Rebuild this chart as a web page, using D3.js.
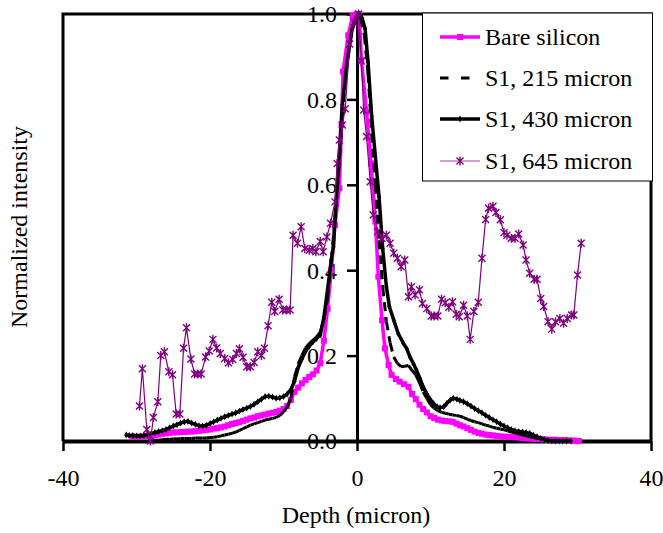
<!DOCTYPE html>
<html>
<head>
<meta charset="utf-8">
<script src="https://cdn.jsdelivr.net/npm/d3@7"></script>
<style>
  body { margin: 0; background: #fff; }
  svg { display: block; }
</style>
</head>
<body>
<svg id="chart" width="663" height="533"></svg>
<script>
// tick labels
var xTicks = [-40, -20, 0, 20, 40];
var yTicks = [0, 0.2, 0.4, 0.6, 0.8, 1.0];

// [depth (micron), normalized intensity]
var bareSilicon = [[-30.5,0.010],[-30,0.010],[-29.5,0.010],[-29,0.011],[-28.5,0.012],[-28,0.012],[-27.5,0.013],[-27,0.015],
  [-26.5,0.017],[-26,0.018],[-25.5,0.019],[-25,0.020],[-24.5,0.020],[-24,0.021],[-23.5,0.021],[-23,0.022],[-22.5,0.022],
  [-22,0.023],[-21.5,0.024],[-21,0.025],[-20.5,0.026],[-20,0.027],[-19.5,0.029],[-19,0.030],[-18.5,0.032],[-18,0.034],
  [-17.5,0.037],[-17,0.040],[-16.5,0.042],[-16,0.044],[-15.5,0.047],[-15,0.050],[-14.5,0.053],[-14,0.055],[-13.5,0.058],
  [-13,0.060],[-12.5,0.062],[-12,0.064],[-11.5,0.066],[-11,0.068],[-10.5,0.071],[-10,0.075],[-9.5,0.082],[-9,0.096],
  [-8.5,0.115],[-8,0.125],[-7.5,0.135],[-7,0.143],[-6.5,0.150],[-6,0.156],[-5.5,0.165],[-5,0.182],[-4.5,0.235],[-4,0.310],
  [-3.5,0.400],[-3,0.506],[-2.4,0.592],[-2.1,0.740],[-1.9,0.865],[-1.2,0.950],[-0.6,0.995],[0,1.000],[0.3,1.000],
  [0.6,0.892],[1.3,0.770],[1.9,0.650],[2.5,0.514],[2.9,0.385],[3.4,0.283],[3.8,0.217],[4.3,0.178],[4.7,0.155],[5.3,0.145],
  [5.8,0.139],[6.4,0.133],[7.0,0.127],[7.5,0.110],[8.0,0.098],[8.5,0.085],[9.0,0.075],[9.5,0.067],[10.0,0.058],[10.5,0.054],
  [11.0,0.050],[11.5,0.048],[12.0,0.047],[12.5,0.046],[13.0,0.045],[13.5,0.041],[14.0,0.037],[14.5,0.034],[15.0,0.030],
  [15.5,0.026],[16.0,0.022],[16.5,0.019],[17.0,0.017],[17.5,0.015],[18.0,0.014],[18.5,0.013],[19.0,0.012],[19.5,0.011],
  [20.0,0.010],[20.5,0.010],[21.0,0.009],[21.5,0.009],[22.0,0.008],[22.5,0.007],[23.0,0.006],[23.5,0.006],[24.0,0.005],
  [24.5,0.005],[25.0,0.004],[25.5,0.004],[26.0,0.003],[26.5,0.003],[27.0,0.003],[27.5,0.002],[28.0,0.002],[28.5,0.002],
  [29.0,0.001],[29.5,0.001],[30.2,0.000]];

var s1_215 = [[-28.2,0.000],[-27.5,0.001],[-27,0.002],[-26.5,0.003],[-26,0.004],[-25.5,0.004],[-25,0.005],[-24.5,0.005],
  [-24,0.006],[-23.5,0.006],[-23,0.006],[-22.5,0.006],[-22,0.007],[-21.5,0.007],[-21,0.007],[-20.5,0.007],[-20,0.008],
  [-19.5,0.009],[-19,0.010],[-18.5,0.012],[-18,0.014],[-17.5,0.016],[-17,0.018],[-16.5,0.021],[-16,0.025],[-15.5,0.029],
  [-15,0.033],[-14.5,0.037],[-14,0.040],[-13.5,0.043],[-13,0.046],[-12.5,0.049],[-12,0.051],[-11.5,0.053],[-11,0.055],
  [-10.5,0.060],[-10,0.068],[-9.5,0.080],[-9,0.100],[-8.5,0.150],[-8,0.180],[-7.5,0.200],[-7,0.218],[-6.5,0.228],
  [-6,0.236],[-5.5,0.244],[-5,0.255],[-4.5,0.285],[-4,0.335],[-3.5,0.424],[-3,0.518],[-2.5,0.630],[-2,0.760],[-1.5,0.860],
  [-1,0.930],[-0.5,0.975],[0,1.000],[0.5,0.990],[1,0.950],[1.5,0.860],[2,0.720],[2.5,0.600],[3,0.470],[3.5,0.360],
  [4,0.280],[4.5,0.230],[5,0.197],[5.5,0.182],[6,0.174],[6.5,0.175],[7,0.177],[7.5,0.165],[8,0.155],[8.5,0.137],[9,0.115],
  [9.5,0.100],[10,0.085],[10.5,0.077],[11,0.071],[11.5,0.067],[12,0.065],[12.5,0.063],[13,0.061],[13.5,0.060],[14,0.058],
  [14.5,0.055],[15,0.051],[15.5,0.048],[16,0.045],[16.5,0.043],[17,0.040],[17.5,0.037],[18,0.035],[18.5,0.032],[19,0.030],
  [19.5,0.028],[20,0.026],[20.5,0.024],[21,0.021],[21.5,0.019],[22,0.017],[22.5,0.014],[23,0.012],[23.5,0.010],[24,0.008],
  [24.5,0.006],[25,0.005],[25.5,0.003],[26,0.002],[26.5,0.001],[27,0.000]];

var s1_430 = [[-31.4,0.014],[-31,0.013],[-30.5,0.013],[-30,0.012],[-29.5,0.012],[-29,0.013],[-28.5,0.015],[-28,0.017],
  [-27.5,0.020],[-27,0.022],[-26.5,0.024],[-26,0.027],[-25.5,0.031],[-25,0.035],[-24.5,0.038],[-24,0.042],[-23.5,0.045],
  [-23,0.046],[-22.5,0.042],[-22,0.039],[-21.5,0.036],[-21,0.035],[-20.5,0.037],[-20,0.041],[-19.5,0.045],[-19,0.049],
  [-18.5,0.053],[-18,0.057],[-17.5,0.060],[-17,0.063],[-16.5,0.066],[-16,0.070],[-15.5,0.074],[-15,0.077],[-14.5,0.081],
  [-14,0.086],[-13.5,0.092],[-13,0.098],[-12.5,0.104],[-12,0.105],[-11.5,0.103],[-11,0.100],[-10.5,0.101],[-10,0.104],
  [-9.5,0.110],[-9,0.120],[-8.5,0.140],[-8,0.172],[-7.5,0.192],[-7,0.210],[-6.5,0.222],[-6,0.232],[-5.5,0.240],[-5,0.248],
  [-4.5,0.290],[-4,0.355],[-3.5,0.424],[-3.2,0.455],[-3,0.520],[-2.5,0.650],[-2,0.787],[-1.4,0.880],[-0.7,0.962],
  [0,0.995],[0.3,1.000],[0.7,0.990],[1.1,0.966],[1.5,0.888],[2,0.760],[2.5,0.666],[3,0.572],[3.5,0.450],[4,0.361],
  [4.4,0.315],[5,0.283],[5.6,0.252],[6.3,0.229],[6.8,0.215],[7.2,0.197],[7.7,0.180],[8.1,0.166],[8.6,0.145],[9,0.127],
  [9.5,0.110],[10,0.096],[10.4,0.088],[10.9,0.080],[11.3,0.078],[11.8,0.080],[12.2,0.088],[12.7,0.096],[13.1,0.100],
  [13.6,0.098],[14,0.095],[14.5,0.092],[15,0.087],[15.5,0.082],[16,0.076],[16.5,0.071],[17,0.066],[17.5,0.060],[18,0.055],
  [18.5,0.050],[19,0.045],[19.5,0.040],[20,0.035],[20.5,0.031],[21,0.027],[21.5,0.024],[22,0.022],[22.5,0.021],[23,0.020],
  [23.5,0.018],[24,0.014],[24.5,0.010],[25,0.006],[25.5,0.003],[26,0.001],[26.5,0.000],[27,0.000],[27.5,0.000],
  [28,0.000],[28.5,0.000],[29.1,0.000]];

var s1_645 = [[-29.6,0.082],[-29.2,0.169],[-28.6,0.027],[-28.1,0.000],[-27.7,0.055],[-27.1,0.092],[-26.7,0.200],
  [-26.2,0.209],[-25.6,0.162],[-25.1,0.155],[-24.6,0.063],[-24.1,0.063],[-23.6,0.217],[-23.2,0.265],[-22.6,0.192],
  [-22.1,0.157],[-21.7,0.157],[-21.2,0.157],[-20.6,0.197],[-20.1,0.211],[-19.6,0.238],[-19.1,0.218],[-18.6,0.205],
  [-18.0,0.193],[-17.5,0.183],[-16.9,0.191],[-16.4,0.205],[-16.0,0.216],[-15.5,0.196],[-15.0,0.174],[-14.5,0.174],
  [-14.0,0.184],[-13.5,0.209],[-13.0,0.200],[-12.6,0.217],[-12.1,0.270],[-11.6,0.325],[-11.2,0.303],[-10.6,0.332],
  [-10.1,0.307],[-9.6,0.307],[-9.1,0.307],[-8.7,0.482],[-8.1,0.463],[-7.6,0.502],[-7.1,0.451],[-6.5,0.447],[-6.0,0.451],
  [-5.6,0.443],[-5.0,0.467],[-4.6,0.443],[-4.1,0.478],[-3.6,0.510],[-3.0,0.560],[-2.7,0.650],[-2.4,0.705],[-2.0,0.740],
  [-1.6,0.778],[-1.0,0.930],[-0.4,0.980],[0.2,1.000],[0.6,0.890],[0.9,0.775],[1.3,0.713],[1.8,0.607],[2.2,0.529],
  [2.8,0.490],[3.4,0.475],[4.0,0.482],[4.5,0.463],[5.0,0.440],[5.5,0.428],[6.0,0.408],[6.5,0.424],[7.0,0.338],[7.4,0.361],
  [7.9,0.342],[8.5,0.354],[8.9,0.322],[9.5,0.310],[10.1,0.293],[10.5,0.293],[11.0,0.293],[11.5,0.332],[12.0,0.324],
  [12.5,0.313],[13.0,0.326],[13.5,0.297],[13.9,0.291],[14.5,0.318],[15.0,0.293],[15.4,0.238],[15.9,0.303],[16.5,0.325],
  [17.0,0.428],[17.5,0.519],[17.9,0.545],[18.5,0.550],[18.9,0.535],[19.5,0.518],[20.0,0.488],[20.4,0.482],[21.0,0.475],
  [21.5,0.475],[22.0,0.485],[22.6,0.459],[23.0,0.424],[23.5,0.393],[24.1,0.379],[24.5,0.379],[25.0,0.334],[25.4,0.315],
  [26.0,0.279],[26.5,0.262],[27.0,0.279],[27.6,0.287],[28.1,0.276],[28.6,0.287],[29.2,0.295],[29.5,0.295],[30.0,0.389],
  [30.5,0.463]];

var seriesNames = ['Bare silicon', 'S1, 215 micron', 'S1, 430 micron', 'S1, 645 micron'];

// try every serif we might find, the box may not have Times
var FONT = 'Liberation Serif, Times New Roman, Times, Tinos, DejaVu Serif, Noto Serif, FreeSerif, Nimbus Roman, serif';

var svg = d3.select('#chart');
var x = d3.scaleLinear().domain([-40, 40]).range([63, 651]);
var y = d3.scaleLinear().domain([0, 1]).range([441, 14]);

// plot area frame (left, top, right)
svg.append('path')
  .attr('d', 'M' + x(-40) + ',' + y(0) + 'V' + y(1) + 'H' + x(40) + 'V' + y(0))
  .attr('fill', 'none')
  .attr('stroke', '#000')
  .attr('stroke-width', 3);

// x axis sits on y=0
var xAxis = svg.append('g')
  .attr('transform', 'translate(0,' + y(0) + ')')
  .call(d3.axisBottom(x).tickValues(xTicks).tickSize(10).tickSizeOuter(0)
    .tickFormat(function(d) { return String(d); }));
xAxis.select('.domain').attr('stroke-width', 4);
xAxis.selectAll('.tick line').attr('stroke-width', 2.5);
xAxis.selectAll('text').attr('y', 45).attr('dy', null);

// y axis crosses at depth 0
var yAxis = svg.append('g')
  .attr('transform', 'translate(' + x(0) + ',0)')
  .call(d3.axisLeft(y).tickValues(yTicks).tickSize(10).tickSizeOuter(0)
    .tickFormat(d3.format('.1f')));
yAxis.select('.domain').attr('stroke-width', 3);
yAxis.selectAll('.tick line').attr('stroke-width', 2.5);
yAxis.selectAll('text').attr('x', -20).attr('dy', '0.33em');

var line = d3.line()
  .x(function(d) { return x(d[0]); })
  .y(function(d) { return y(d[1]); });

var starPath = 'M-3.5,-3.5L3.5,3.5M-3.5,3.5L3.5,-3.5M0,-4.5L0,4.5';
var diamond = d3.symbol().type(d3.symbolDiamond).size(14);

// Bare silicon
svg.append('path').datum(bareSilicon)
  .attr('d', line).attr('fill', 'none')
  .attr('stroke', '#ff00ff').attr('stroke-width', 3.5);
svg.append('g').selectAll('rect').data(bareSilicon).enter()
  .append('rect')
  .attr('x', function(d) { return x(d[0]) - 3; })
  .attr('y', function(d) { return y(d[1]) - 3; })
  .attr('width', 6).attr('height', 6)
  .attr('fill', '#ff00ff');

// S1, 215 micron - dash pattern restarts on each segment (like excel does)
svg.append('g').selectAll('path').data(d3.pairs(s1_215)).enter()
  .append('path')
  .attr('d', function(d) { return line(d); })
  .attr('fill', 'none')
  .attr('stroke', '#000').attr('stroke-width', 3)
  .attr('stroke-dasharray', '9,6');

// S1, 430 micron
svg.append('path').datum(s1_430)
  .attr('d', line).attr('fill', 'none')
  .attr('stroke', '#000').attr('stroke-width', 3.5);
svg.append('g').selectAll('path').data(s1_430).enter()
  .append('path')
  .attr('d', diamond)
  .attr('transform', function(d) { return 'translate(' + x(d[0]) + ',' + y(d[1]) + ')'; })
  .attr('fill', '#000');

// S1, 645 micron
svg.append('path').datum(s1_645)
  .attr('d', line).attr('fill', 'none')
  .attr('stroke', '#800080').attr('stroke-width', 1.2);
svg.append('g').selectAll('path').data(s1_645).enter()
  .append('path')
  .attr('d', starPath)
  .attr('transform', function(d) { return 'translate(' + x(d[0]) + ',' + y(d[1]) + ')'; })
  .attr('fill', 'none')
  .attr('stroke', '#800080').attr('stroke-width', 1.4);

// legend
var lg = svg.append('g');
lg.append('rect')
  .attr('x', 422.5).attr('y', 13).attr('width', 230).attr('height', 168)
  .attr('fill', '#fff').attr('stroke', '#000').attr('stroke-width', 1);

var rowY = [37, 78, 119, 161];
var x0 = 440, x1 = 480, mid = 460;

lg.append('line').attr('x1', x0).attr('x2', x1).attr('y1', rowY[0]).attr('y2', rowY[0])
  .attr('stroke', '#ff00ff').attr('stroke-width', 3.5);
lg.append('rect').attr('x', mid - 3).attr('y', rowY[0] - 3).attr('width', 6).attr('height', 6)
  .attr('fill', '#ff00ff');

lg.append('line').attr('x1', x0).attr('x2', x1).attr('y1', rowY[1]).attr('y2', rowY[1])
  .attr('stroke', '#000').attr('stroke-width', 3).attr('stroke-dasharray', '8.5,12.5');

lg.append('line').attr('x1', x0).attr('x2', x1).attr('y1', rowY[2]).attr('y2', rowY[2])
  .attr('stroke', '#000').attr('stroke-width', 3.5);
lg.append('path').attr('d', diamond).attr('transform', 'translate(' + mid + ',' + rowY[2] + ')')
  .attr('fill', '#000');

lg.append('line').attr('x1', x0).attr('x2', x1).attr('y1', rowY[3]).attr('y2', rowY[3])
  .attr('stroke', '#a040a0').attr('stroke-width', 1.2);
lg.append('path').attr('d', starPath).attr('transform', 'translate(' + mid + ',' + rowY[3] + ')')
  .attr('fill', 'none').attr('stroke', '#800080').attr('stroke-width', 1.4);

lg.selectAll('text.lab').data(seriesNames).enter()
  .append('text').attr('class', 'lab')
  .attr('x', 485)
  .attr('y', function(d, i) { return rowY[i] + 8; })
  .text(function(d) { return d; });

// axis titles
svg.append('text')
  .attr('x', 356).attr('y', 523)
  .attr('text-anchor', 'middle')
  .text('Depth (micron)');

svg.append('text')
  .attr('transform', 'translate(27,227) rotate(-90)')
  .attr('text-anchor', 'middle')
  .text('Normalized intensity');

// one font for every label, set last so it beats the axis defaults
svg.selectAll('text')
  .style('font-family', FONT)
  .style('font-size', '24px')
  .style('fill', '#000');
</script>
</body>
</html>
